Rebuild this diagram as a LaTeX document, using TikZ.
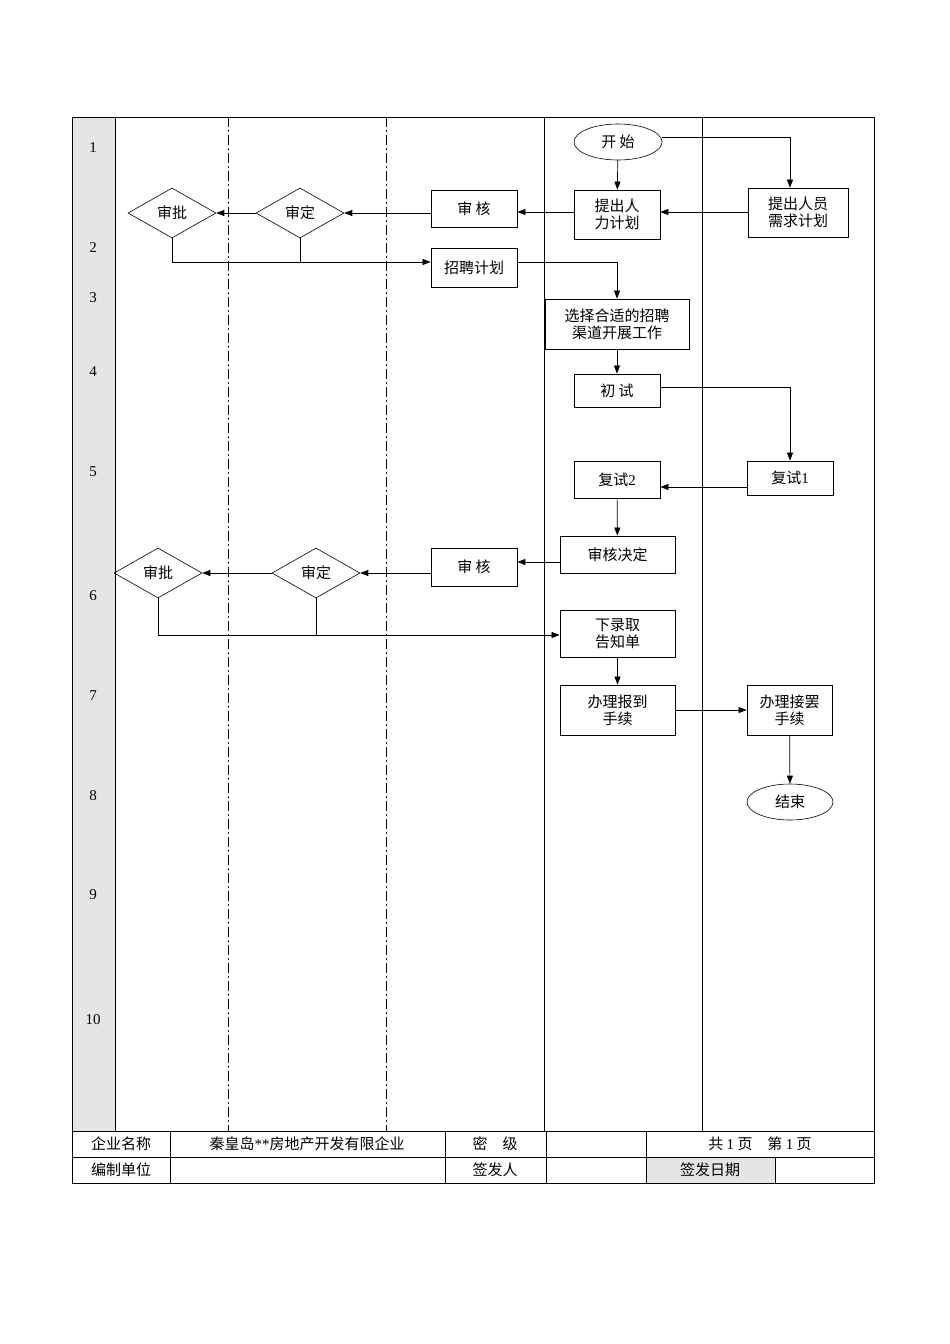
\documentclass[tikz,border=0pt]{standalone}
\usepackage{fontspec}
\setmainfont{Liberation Serif}
\newfontfamily\cjk{Noto Sans CJK SC}
\usetikzlibrary{shapes.geometric,arrows.meta}
\begin{document}
\begin{tikzpicture}[x=1pt,y=-1pt,
  every node/.style={font=\cjk\fontsize{15}{17}\selectfont},
  bx/.style={draw,line width=0.8pt,rectangle,inner sep=0pt,align=center},
  dm/.style={draw,line width=0.6pt,diamond,inner sep=0pt,minimum width=88pt,minimum height=50pt,aspect=1.76},
  el/.style={draw,line width=0.6pt,ellipse,inner sep=0pt,minimum width=88pt,minimum height=36pt},
  ar/.style={-{Triangle[length=8pt,width=6pt]},line width=0.7pt},
  ln/.style={line width=0.7pt},
  num/.style={font=\fontsize{15}{17}\selectfont}]
\useasboundingbox (0,0) rectangle (950,1344);
\fill[gray!20] (72,117) rectangle (115,1131);
\draw (72,117) rectangle (874,1183);
\draw (115,117) -- (115,1131);
\draw[dash pattern=on 10pt off 3pt on 2pt off 3pt] (228,117) -- (228,1131) (386,117) -- (386,1131);
\draw (544,117) -- (544,1131) (702,117) -- (702,1131);
\foreach \n/\y in {1/148,2/248,3/298,4/372,5/472,6/596,7/696,8/796,9/895,10/1020}
  \node[num] (r\n) at (93,\y) {\n};
% footer
\draw (72,1131) -- (874,1131) (72,1157) -- (874,1157);
\draw (170,1131) -- (170,1183) (445,1131) -- (445,1183) (546,1131) -- (546,1183) (646,1131) -- (646,1183);
\fill[gray!20] (647,1157.5) rectangle (774.5,1182.5);
\draw (775,1157) -- (775,1183);
\node (f1) at (121,1144) {企业名称};
\node (f2) at (307,1144) {秦皇岛\fontspec{Liberation Serif}**\cjk 房地产开发有限企业};
\node (f3) at (495,1144) {密\quad 级};
\node (f4) at (760,1144) {共 \fontspec{Liberation Serif}1\cjk{} 页\quad 第 \fontspec{Liberation Serif}1\cjk{} 页};
\node (f5) at (121,1170) {编制单位};
\node (f6) at (495,1170) {签发人};
\node (f7) at (710,1170) {签发日期};
% nodes
\node[el] (start) at (618,142) {开\ 始};
\node[bx,minimum width=86pt,minimum height=49pt] (rl) at (617,214.5) {提出人\\力计划};
\node[bx,minimum width=100pt,minimum height=49pt] (ry) at (798,212.5) {提出人员\\需求计划};
\node[bx,minimum width=86pt,minimum height=37pt] (sh1) at (474,208.5) {审\ 核};
\node[dm] (sd1) at (300,213) {审定};
\node[dm] (sp1) at (172,213) {审批};
\node[bx,minimum width=86pt,minimum height=39pt] (zp) at (474,267.5) {招聘计划};
\node[bx,minimum width=144pt,minimum height=50pt] (xz) at (617,324) {选择合适的招聘\\渠道开展工作};
\node[bx,minimum width=86pt,minimum height=33pt] (cs) at (617,390.5) {初\ 试};
\node[bx,minimum width=86pt,minimum height=34pt] (fs1) at (790,478) {复试\fontspec{Liberation Serif}1};
\node[bx,minimum width=86pt,minimum height=37pt] (fs2) at (617,479.5) {复试\fontspec{Liberation Serif}2};
\node[bx,minimum width=115pt,minimum height=37pt] (shj) at (617.5,554.5) {审核决定};
\node[bx,minimum width=86pt,minimum height=38pt] (sh2) at (474,567) {审\ 核};
\node[dm] (sd2) at (316,573) {审定};
\node[dm] (sp2) at (158,573) {审批};
\node[bx,minimum width=115pt,minimum height=47pt] (xl) at (617.5,633.5) {下录取\\告知单};
\node[bx,minimum width=115pt,minimum height=50pt] (bd) at (617.5,710) {办理报到\\手续};
\node[bx,minimum width=85pt,minimum height=50pt] (bj) at (789.5,710) {办理接罢\\手续};
\node[el,minimum width=86pt] (end) at (790,802) {结束};
\coordinate (c1) at (790,137);
\coordinate (j1) at (300,262);
\coordinate (j2) at (316,635);
% edges
\draw[ar] (start.east |- c1) -- (c1) -- (c1 |- ry.north);
\draw[ar] (start) -- (rl);
\draw[ar] (ry.west |- 0,212) -- (rl.east |- 0,212);
\draw[ar] (rl.west |- 0,212) -- (sh1.east |- 0,212);
\draw[ar] (sh1.west |- 0,213) -- (sd1.east);
\draw[ar] (sd1) -- (sp1);
\draw[ar] (sp1.south) |- (zp.west |- 0,262);
\draw[ln] (sd1.south) -- (j1);
\draw[ar] (zp.east |- 0,262) -| (xz.north);
\draw[ar] (xz) -- (cs);
\draw[ar] (cs.east |- 0,387) -| (fs1.north);
\draw[ar] (fs1.west |- 0,487) -- (fs2.east |- 0,487);
\draw[ar] (fs2) -- (shj);
\draw[ar] (shj.west |- 0,562) -- (sh2.east |- 0,562);
\draw[ar] (sh2.west |- 0,573) -- (sd2.east);
\draw[ar] (sd2) -- (sp2);
\draw[ar] (sp2.south) |- (xl.west |- 0,635);
\draw[ln] (sd2.south) -- (j2);
\draw[ar] (xl) -- (bd);
\draw[ar] (bd) -- (bj);
\draw[ar] (bj) -- (end);
\end{tikzpicture}
\end{document}
